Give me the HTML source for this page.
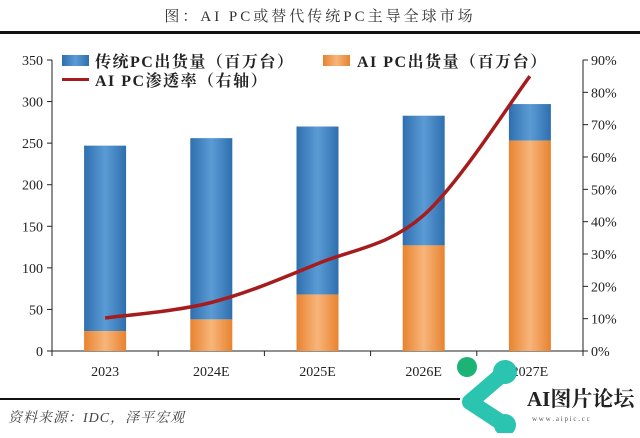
<!DOCTYPE html>
<html><head><meta charset="utf-8"><style>
body{margin:0;background:#fff;}
svg text{font-family:"Liberation Serif","Noto Serif CJK SC",serif;}
</style></head><body>
<svg id="c" width="640" height="433" viewBox="0 0 640 433">
<defs>
<linearGradient id="gb" x1="0" x2="1"><stop offset="0" stop-color="#2f6fae"/><stop offset="0.5" stop-color="#5b9bd5"/><stop offset="1" stop-color="#2f6fae"/></linearGradient>
<linearGradient id="go" x1="0" x2="1"><stop offset="0" stop-color="#e8832f"/><stop offset="0.5" stop-color="#f7b57a"/><stop offset="1" stop-color="#e8832f"/></linearGradient>
</defs>
<text x="320" y="21" text-anchor="middle" font-size="15" letter-spacing="3" fill="#333">图：AI PC或替代传统PC主导全球市场</text>
<rect x="0" y="31" width="640" height="3" fill="#111"/>
<rect x="0" y="398" width="460" height="2" fill="#111"/>
<text x="8" y="422" font-size="14" font-style="italic" letter-spacing="1" fill="#444">资料来源：IDC，泽平宏观</text>
<g id="axes"></g><g id="bars"></g><g id="line"></g>
<g>
<rect x="62" y="55" width="27" height="11" fill="url(#gb)"/>
<text x="95" y="67" font-size="16" letter-spacing="1.5" font-weight="bold" fill="#222">传统PC出货量（百万台）</text>
<rect x="323" y="55" width="27" height="11" fill="url(#go)"/>
<text x="357" y="67" font-size="16" letter-spacing="1.5" font-weight="bold" fill="#222">AI PC出货量（百万台）</text>
<rect x="62" y="78" width="27" height="3" fill="#a61c1c"/>
<text x="95" y="86" font-size="16" letter-spacing="1.5" font-weight="bold" fill="#222">AI PC渗透率（右轴）</text>
</g>
<g>
<circle cx="467" cy="367" r="10" fill="#1db377"/>
<path d="M505 372 L470 402 L505 425" stroke="#2bc4b0" stroke-width="16" fill="none" stroke-linecap="round" stroke-linejoin="round"/>
<circle cx="505" cy="372" r="12" fill="#2bc4b0"/>
<circle cx="505" cy="425" r="11" fill="#2bc4b0"/>
<text x="527" y="406" font-size="21" font-weight="bold" fill="#222" font-family="Liberation Sans,Noto Sans CJK SC,sans-serif">AI图片论坛</text>
<text x="532" y="421" font-size="7" fill="#555" font-family="Liberation Sans,sans-serif">w w w . a i p i c . c c</text>
</g>
</svg>
<script>
const categories=["2023","2024E","2025E","2026E","2027E"];
const totalShip=[247,256,270,283,297];
const aiShip=[24,38,68,127,253];
const rate=[10.2,15,27,42,85];
const leftTicks=[0,50,100,150,200,250,300,350];
const rightTicks=[0,10,20,30,40,50,60,70,80,90];
const NS="http://www.w3.org/2000/svg";
const X0=52,X1=583,Y0=351,Y1=60;
const yL=v=>Y0-(v/350)*(Y0-Y1);
const yR=v=>Y0-(v/90)*(Y0-Y1);
const step=(X1-X0)/categories.length;
const xC=i=>X0+step*(i+0.5);
function mk(t,a,p,before){const e=document.createElementNS(NS,t);for(const k in a)e.setAttribute(k,a[k]);p.appendChild(e);return e;}
const ax=document.getElementById('axes'),bg=document.getElementById('bars'),lg=document.getElementById('line');
let e=mk('line',{x1:X0,x2:X0,y1:Y1,y2:Y0,stroke:'#222'},ax);


e=mk('line',{x1:X1,x2:X1,y1:Y1,y2:Y0,stroke:'#222'},ax);


e=mk('line',{x1:X0,x2:X1,y1:Y0,y2:Y0,stroke:'#222'},ax);


leftTicks.forEach(v=>{mk('line',{x1:X0-5,x2:X0,y1:yL(v),y2:yL(v),stroke:'#222'},ax);
const t=mk('text',{x:X0-9,y:yL(v)+5,'text-anchor':'end','font-size':14,fill:'#222'},ax);t.textContent=v;

});
rightTicks.forEach(v=>{mk('line',{x1:X1,x2:X1+5,y1:yR(v),y2:yR(v),stroke:'#222'},ax);
const t=mk('text',{x:X1+8,y:yR(v)+5,'font-size':14,fill:'#222'},ax);t.textContent=v+'%';

});
for(let i=0;i<=categories.length;i++)mk('line',{x1:X0+step*i,x2:X0+step*i,y1:Y0,y2:Y0+5,stroke:'#222'},ax);
const bw=42;
categories.forEach((c,i)=>{
const t=mk('text',{x:xC(i),y:376,'text-anchor':'middle','font-size':14,fill:'#222'},ax);t.textContent=c;


let b=mk('rect',{x:xC(i)-bw/2,y:yL(totalShip[i]),width:bw,height:yL(aiShip[i])-yL(totalShip[i]),fill:'url(#gb)'},bg);


b=mk('rect',{x:xC(i)-bw/2,y:yL(aiShip[i]),width:bw,height:Y0-yL(aiShip[i]),fill:'url(#go)'},bg);


});
const pts=rate.map((v,i)=>[xC(i),yR(v)]);
let d='M'+pts[0].join(' ');
for(let i=0;i<pts.length-1;i++){const p0=pts[i-1]||pts[i],p1=pts[i],p2=pts[i+1],p3=pts[i+2]||p2;
d+=' C'+(p1[0]+(p2[0]-p0[0])/6)+' '+(p1[1]+(p2[1]-p0[1])/6)+' '+(p2[0]-(p3[0]-p1[0])/6)+' '+(p2[1]-(p3[1]-p1[1])/6)+' '+p2[0]+' '+p2[1];}
const ln=mk('path',{d:d,fill:'none',stroke:'#a61c1c','stroke-width':3.5},lg);


</script>
</body></html>
